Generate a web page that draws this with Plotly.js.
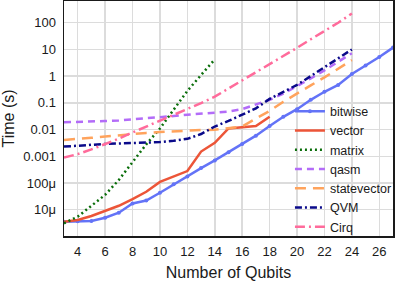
<!DOCTYPE html>
<html>
<head>
<meta charset="utf-8">
<script src="https://cdn.plot.ly/plotly-3.0.1.min.js"></script>
<style>html,body{margin:0;padding:0;background:#fff;}#chart{width:398px;height:281px;}</style>
</head>
<body>
<div id="chart"></div>
<script>
// Data
const qubitsBitwise = [3,4,5,6,7,8,9,10,11,12,13,14,15,16,17,18,19,20,21,22,23,24,25,26,27];
const bitwiseTime = [3.5e-6,3.7e-6,3.8e-6,5e-6,7.7e-6,1.7e-5,2.2e-5,4.3e-5,8.9e-5,1.75e-4,3.6e-4,7e-4,1.4e-3,2.9e-3,5.9e-3,0.0135,0.03,0.058,0.13,0.26,0.47,1.2,2.5,5.2,11.7];

const qubitsVector = [3,4,5,6,7,8,9,10,11,12,13,14,15,16,17,18];
const vectorTime = [3.5e-6,4.1e-6,5.8e-6,8.9e-6,1.4e-5,2.5e-5,4.7e-5,1.1e-4,1.7e-4,2.8e-4,1.5e-3,3.2e-3,0.011,0.012,0.0135,0.03];

const qubitsMatrix = [3,4,5,6,7,8,9,10,11,12,13,14];
const matrixTime = [3.1e-6,5.5e-6,1.4e-5,3.6e-5,1.3e-4,6.3e-4,2.8e-3,0.011,0.056,0.28,1.1,4.2];

const qubitsSim = [3,4,5,6,7,8,9,10,11,12,13,14,15,16,17,18,19,20,21,22,23,24];
const qasmTime = [0.0186,0.019,0.02,0.021,0.022,0.024,0.026,0.028,0.032,0.036,0.04,0.043,0.047,0.058,0.085,0.13,0.22,0.41,0.82,1.65,3.4,7.2];
const statevectorTime = [0.0041,0.0044,0.0049,0.0055,0.0062,0.0069,0.0075,0.0081,0.0087,0.0092,0.0096,0.0098,0.011,0.013,0.026,0.05,0.11,0.23,0.45,0.9,1.9,4.0];
const qvmTime = [0.0023,0.0025,0.0027,0.0029,0.003,0.0031,0.0032,0.0034,0.0038,0.0045,0.0068,0.013,0.021,0.036,0.062,0.14,0.25,0.47,1.0,2.2,4.7,10];
const cirqTime = [9e-4,0.0012,0.0018,0.0028,0.0046,0.0078,0.013,0.021,0.034,0.058,0.098,0.17,0.34,0.69,1.4,2.9,5.8,11.5,24,48,100,220];

const yTickVals = [1e-5,1e-4,1e-3,1e-2,0.1,1,10,100];
const yTickText = ['10μ','100μ','0.001','0.01','0.1','1','10','100'];
const xTickVals = [4,6,8,10,12,14,16,18,20,22,24,26];

const W = 2.5;
const traces = [
  {name:'bitwise', x:qubitsBitwise, y:bitwiseTime, mode:'lines+markers',
   line:{color:'#6373f7', width:W}, marker:{color:'#6373f7', size:4}},
  {name:'vector', x:qubitsVector, y:vectorTime, mode:'lines',
   line:{color:'#ec5538', width:W}},
  {name:'matrix', x:qubitsMatrix, y:matrixTime, mode:'lines',
   line:{color:'#0a6e0a', width:W, dash:'2px,3px'}},
  {name:'qasm', x:qubitsSim, y:qasmTime, mode:'lines',
   line:{color:'#b36cf8', width:W, dash:'7px,5px'}},
  {name:'statevector', x:qubitsSim, y:statevectorTime, mode:'lines',
   line:{color:'#ffa35c', width:W, dash:'11px,7px'}},
  {name:'QVM', x:qubitsSim, y:qvmTime, mode:'lines',
   line:{color:'#0a0a8a', width:W, dash:'7px,3px,2px,3px'}},
  {name:'Cirq', x:qubitsSim, y:cirqTime, mode:'lines',
   line:{color:'#ff6b9b', width:W, dash:'10px,4px,2px,4px'}}
];

const font = {family:'"Liberation Sans", Arial, sans-serif', size:13, color:'#1a1a1a'};
const layout = {
  width:398, height:281,
  margin:{l:64, r:1, t:1, b:45},
  paper_bgcolor:'#fff', plot_bgcolor:'#fff',
  font:font,
  showlegend:true,
  hovermode:false,
  xaxis:{
    range:[3,27], tickvals:xTickVals, ticks:'', showgrid:true,
    gridcolor:'#dcdcdc', gridwidth:1.5, zeroline:false,
    showline:true, linecolor:'#1a1a1a', linewidth:1.5, mirror:true,
    tickfont:{family:font.family, size:13, color:'#1a1a1a'},
    ticklabelstandoff:3,
    title:{text:'Number of Qubits', font:{family:font.family, size:16, color:'#1a1a1a'}, standoff:10}
  },
  yaxis:{
    type:'log', range:[-5.985, 2.813], tickvals:yTickVals, ticktext:yTickText,
    ticks:'', showgrid:true, gridcolor:'#dcdcdc', gridwidth:1.5, zeroline:false,
    showline:true, linecolor:'#1a1a1a', linewidth:1.5, mirror:true,
    tickfont:{family:font.family, size:13, color:'#1a1a1a'},
    ticklabelstandoff:4,
    title:{text:'Time (s)', font:{family:font.family, size:16, color:'#1a1a1a'}, standoff:10}
  },
  // white backdrop for the legend box, drawn between gridlines and traces
  shapes:[{type:'rect', xref:'paper', yref:'paper', x0:0.714, x1:1, y0:0, y1:0.566,
           fillcolor:'#ffffff', line:{width:0}, layer:'between'}],
  legend:{
    x:1.012, xanchor:'right', y:-0.005, yanchor:'bottom',
    bgcolor:'rgba(0,0,0,0)', borderwidth:0,
    font:{family:font.family, size:12.5, color:'#1a1a1a'},
    itemwidth:30, tracegroupgap:0
  }
};

Plotly.newPlot('chart', traces, layout, {staticPlot:true, displayModeBar:false});
</script>
</body>
</html>
